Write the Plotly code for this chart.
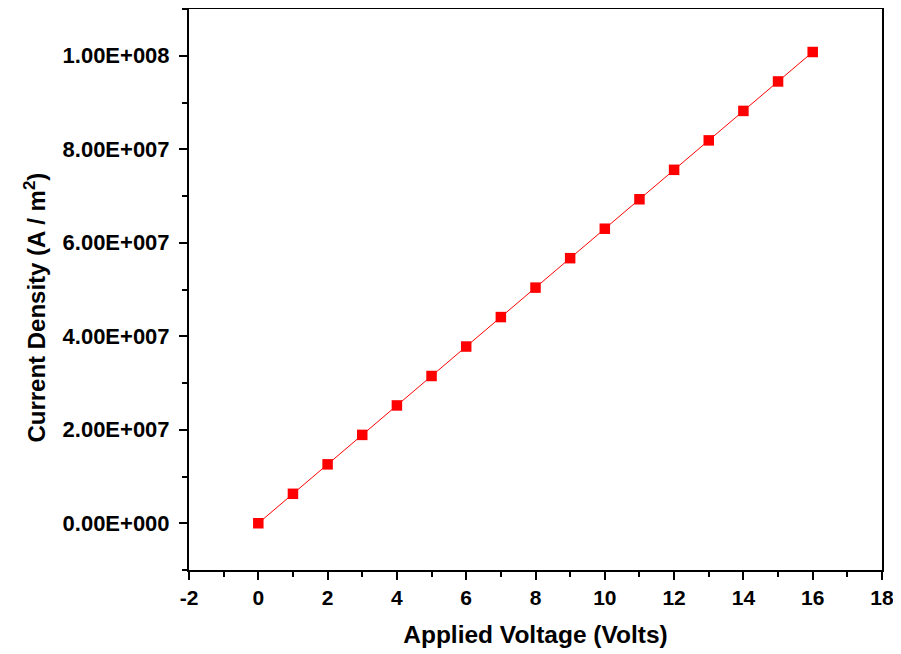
import plotly.graph_objects as go

voltage = [0, 1, 2, 3, 4, 5, 6, 7, 8, 9, 10, 11, 12, 13, 14, 15, 16]
current_density = [0, 6.3e6, 1.26e7, 1.89e7, 2.52e7, 3.15e7, 3.78e7, 4.41e7, 5.04e7,
                   5.67e7, 6.3e7, 6.93e7, 7.56e7, 8.19e7, 8.82e7, 9.45e7, 1.008e8]

x_tickvals = [-2, 0, 2, 4, 6, 8, 10, 12, 14, 16, 18]
x_ticktext = ["-2", "0", "2", "4", "6", "8", "10", "12", "14", "16", "18"]
y_tickvals = [0, 2e7, 4e7, 6e7, 8e7, 1e8]
y_ticktext = ["0.00E+000", "2.00E+007", "4.00E+007", "6.00E+007", "8.00E+007", "1.00E+008"]

x_title = "Applied Voltage (Volts)"
y_title = "Current Density (A / m<sup>2</sup>)"

FONT = "Liberation Sans, Arial, sans-serif"

fig = go.Figure()
fig.add_trace(go.Scatter(
    x=voltage, y=current_density, mode="lines+markers",
    line=dict(color="#ff0000", width=1),
    marker=dict(symbol="square", size=10.5, color="#ff0000"),
    showlegend=False,
))

fig.update_layout(
    width=893, height=646,
    margin=dict(l=181, r=19, t=1, b=84, autoexpand=False),
    plot_bgcolor="white", paper_bgcolor="white",
    font=dict(family=FONT, color="black"),
)
fig.update_xaxes(
    range=[-2, 18], tickvals=x_tickvals, ticktext=x_ticktext,
    ticks="outside", ticklen=8, tickwidth=2, tickcolor="black",
    ticklabelstandoff=0,
    showline=True, linewidth=2, linecolor="black", mirror=True,
    showgrid=False, zeroline=False,
    tickfont=dict(family=FONT, size=21, color="black", weight="bold"),
    minor=dict(dtick=1, tick0=0, ticks="outside", ticklen=5, tickwidth=2, tickcolor="black", showgrid=False),
    title=dict(text="<b>" + x_title + "</b>", font=dict(family=FONT, size=24.5, color="black"), standoff=18),
)
fig.update_yaxes(
    range=[-1e7, 1.1e8], tickvals=y_tickvals, ticktext=y_ticktext,
    ticks="outside", ticklen=8, tickwidth=2, tickcolor="black",
    ticklabelstandoff=5,
    showline=True, linewidth=2, linecolor="black", mirror=True,
    showgrid=False, zeroline=False,
    tickfont=dict(family=FONT, size=22, color="black", weight="bold"),
    minor=dict(dtick=1e7, tick0=0, ticks="outside", ticklen=5, tickwidth=2, tickcolor="black", showgrid=False),
)
fig.add_annotation(
    text="<b>" + y_title + "</b>", textangle=-90,
    xref="paper", yref="paper", x=-0.222, y=0.468,
    xanchor="center", yanchor="middle", showarrow=False,
    font=dict(family=FONT, size=24, color="black"),
)

fig.write_html("out.html")
